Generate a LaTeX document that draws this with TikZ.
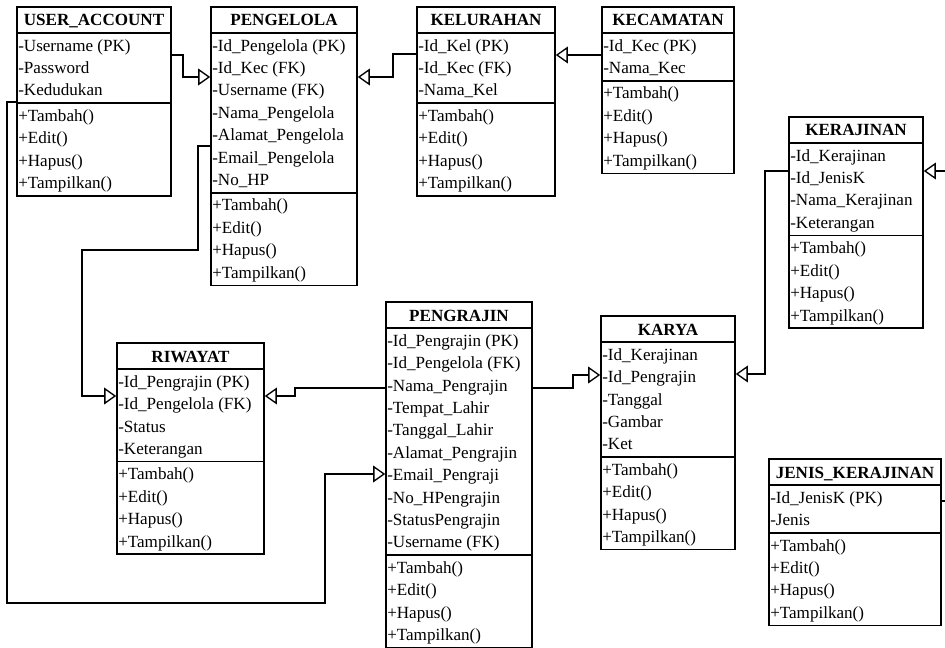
\documentclass[tikz,border=0pt]{standalone}
\usepackage{fontspec}
\setmainfont{Liberation Serif}
\usetikzlibrary{arrows.meta,fit}

\tikzset{
  boxline/.style={draw, line width=1.2pt},
  classbox/.style={boxline, inner sep=0pt},
  rowtext/.style={anchor=base west, inner sep=0pt, font=\fontsize{12.8}{15}\selectfont},
  titletext/.style={anchor=base, inner sep=0pt, font=\fontsize{12.8}{15}\selectfont\bfseries},
  assoc/.style={line width=1pt, -{Triangle[open,length=9pt,width=12.5pt,line width=1pt]}},
}

% #1 name, #2 left, #3 top, #4 right, #5 number of attributes, #6 title, #7 attributes
\newcommand\umlclass[7]{%
  \pgfmathsetmacro\ya{#3+26}%
  \pgfmathsetmacro\yb{\ya+#5*22.4+3}%
  \pgfmathsetmacro\yc{\yb+4*22.4+3}%
  \node[classbox, fit={(#2,#3) (#4,\yc)}] (#1) {};
  \node[titletext] (#1-title) at ({(#2+#4)/2},{(#3+\ya)/2+6}) {#6};
  \draw[boxline] (#2,\ya) -- (#4,\ya) (#2,\yb) -- (#4,\yb);
  \foreach \s [count=\i] in {#7}
    \node[rowtext] (#1-a\i) at (#2+1,{\ya+1.5+(\i-0.5)*22.4+5.5}) {\s};
  \foreach \s [count=\i] in {+Tambah(),+Edit(),+Hapus(),+Tampilkan()}
    \node[rowtext] (#1-m\i) at (#2+1,{\yb+1.5+(\i-0.5)*22.4+5.5}) {\s};
}

\begin{document}
\begin{tikzpicture}[x=0.75pt, y=-0.75pt]
\useasboundingbox (0,0) rectangle (945,648);

\umlclass{ua}{17}{7}{171}{3}{USER\_ACCOUNT}{-Username (PK),-Password,-Kedudukan}
\umlclass{peng}{211}{7}{357}{7}{PENGELOLA}{-Id\_Pengelola (PK),-Id\_Kec (FK),-Username (FK),-Nama\_Pengelola,-Alamat\_Pengelola,-Email\_Pengelola,-No\_HP}
\umlclass{kel}{417}{7}{555}{3}{KELURAHAN}{-Id\_Kel (PK),-Id\_Kec (FK),-Nama\_Kel}
\umlclass{kec}{602}{7}{734}{2}{KECAMATAN}{-Id\_Kec (PK),-Nama\_Kec}
\umlclass{ker}{789}{117}{923}{4}{KERAJINAN}{-Id\_Kerajinan,-Id\_JenisK,-Nama\_Kerajinan,-Keterangan}
\umlclass{kar}{601}{316}{735}{5}{KARYA}{-Id\_Kerajinan,-Id\_Pengrajin,-Tanggal,-Gambar,-Ket}
\umlclass{pgr}{386}{302}{532}{10}{PENGRAJIN}{-Id\_Pengrajin (PK),-Id\_Pengelola (FK),-Nama\_Pengrajin,-Tempat\_Lahir,-Tanggal\_Lahir,-Alamat\_Pengrajin,-Email\_Pengraji,-No\_HPengrajin,-StatusPengrajin,-Username (FK)}
\umlclass{riw}{117}{343}{264}{4}{RIWAYAT}{-Id\_Pengrajin (PK),-Id\_Pengelola (FK),-Status,-Keterangan}
\umlclass{jk}{769}{459}{941}{2}{JENIS\_KERAJINAN}{-Id\_JenisK (PK),-Jenis}

% associations
\draw[assoc] (ua.east |- 0,55) -- (183,55) |- (peng.west |- 0,77);
\draw[assoc] (kel.west |- 0,54) -- (393,54) |- (peng.east |- 0,77);
\draw[assoc] (kec.west |- 0,49) -- ++(1,0) -- ++(0,6) -- (kel.east |- 0,55);
\draw[assoc] (peng.west |- 0,146) -- (198,146) |- (82,250) |- (riw.west |- 0,396);
\draw[assoc] (pgr.west |- 0,388) -- (295,388) |- (riw.east |- 0,396);
\draw[assoc] (pgr.east |- 0,388) -- (573,388) |- (kar.west |- 0,375);
\draw[assoc] (ua.west |- 0,102) -- (7,102) |- (325,603) |- (pgr.west |- 0,474);
\draw[assoc] (ker.west |- 0,171) -- (765,171) |- (kar.east |- 0,374);
\draw[assoc] (jk.east |- 0,501) -- (952,501) |- (ker.east |- 0,171);
\end{tikzpicture}
\end{document}
